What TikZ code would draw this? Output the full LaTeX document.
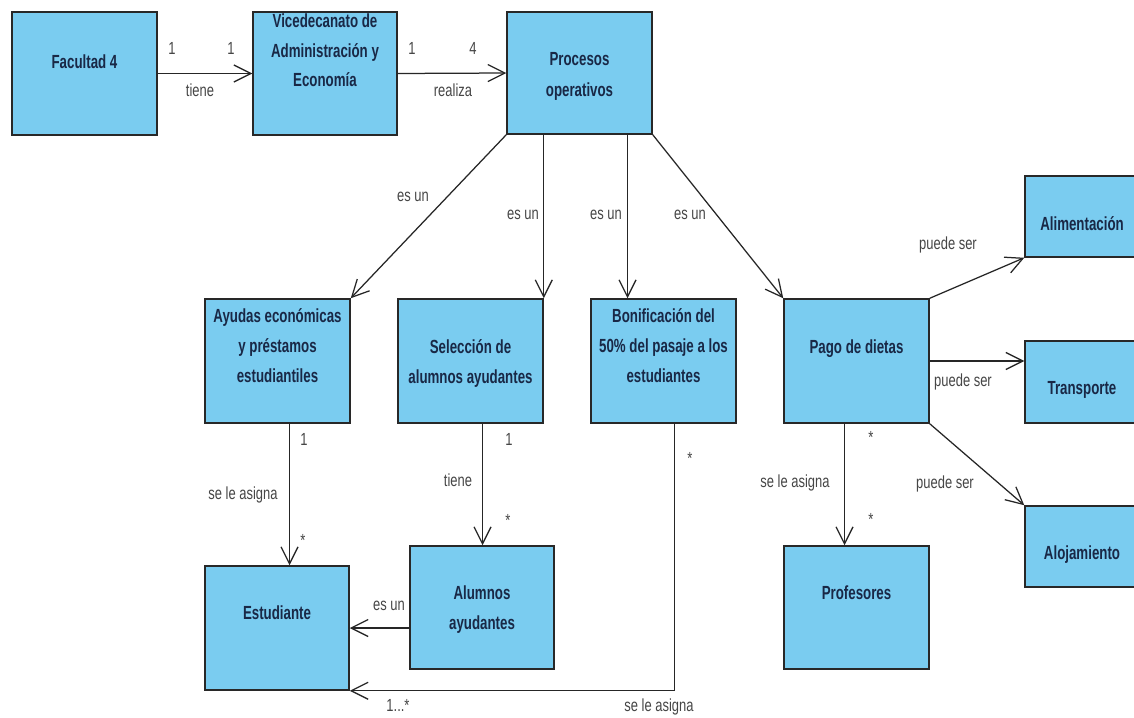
\documentclass[tikz,border=0pt]{standalone}
\usepackage{fontspec}
\setmainfont{Liberation Sans}
\newfontfamily\boxfont{Liberation Sans}[FakeStretch=0.70]
\newfontfamily\lblfont{Liberation Sans}[FakeStretch=0.74]
\usetikzlibrary{arrows.meta}
\definecolor{boxfill}{RGB}{122,204,240}
\definecolor{boxline}{RGB}{40,40,40}
\definecolor{boxtxt}{RGB}{25,40,70}
\definecolor{lbltxt}{RGB}{70,70,70}
\begin{document}
\begin{tikzpicture}[x=1pt,y=-1pt,
  box/.style={rectangle, draw=boxline, fill=boxfill, line width=1.5pt,
    minimum width=145pt, minimum height=123pt, inner sep=0pt},
  btxt/.style={anchor=base, inner sep=0pt, text=boxtxt,
    font=\boxfont\bfseries\fontsize{19}{22}\selectfont},
  lbl/.style={anchor=base, inner sep=0pt, text=lbltxt,
    font=\lblfont\fontsize{17.5}{20}\selectfont},
  assoc/.style={draw=black!85, line width=1.25pt,
    -{Straight Barb[length=17pt,width=17pt]}}]
\clip (0,0) rectangle (1134,717);
\fill[white] (0,0) rectangle (1134,717);

% boxes
\node[box] (fac)   at (84.5,73.5) {};
\node[box, minimum width=144pt] (vice) at (325,73.5) {};
\node[box, minimum height=122pt] (proc) at (579.5,73) {};
\node[box, minimum height=124pt] (ayu)  at (277.5,361) {};
\node[box, minimum height=124pt] (sel)  at (470.5,361) {};
\node[box, minimum height=124pt] (bon)  at (663.5,361) {};
\node[box, minimum height=124pt] (pago) at (856.5,361) {};
\node[box, minimum height=81pt] (alim)  at (1097.5,216.5) {};
\node[box, minimum height=82pt] (trans) at (1097.5,382) {};
\node[box, minimum height=81pt] (aloj)  at (1097.5,546.5) {};
\node[box, minimum width=144pt, minimum height=124pt] (est) at (277,628) {};
\node[box, minimum width=144pt] (alum) at (482,607.5) {};
\node[box] (prof) at (856.5,607.5) {};

% box texts
\node[btxt] (facT) at (84.5,68) {Facultad 4};
\node[btxt] (viceT1) at (325,28) {Vicedecanato de};
\node[btxt] (viceT2) at (325,57) {Administración y};
\node[btxt] (viceT3) at (325,86) {Economía};
\node[btxt] (procT1) at (579.5,66) {Procesos};
\node[btxt] (procT2) at (579.5,96) {operativos};
\node[btxt] (ayuT1) at (277.5,322) {Ayudas económicas};
\node[btxt] (ayuT2) at (277.5,352) {y préstamos};
\node[btxt] (ayuT3) at (277.5,382) {estudiantiles};
\node[btxt] (selT1) at (470.5,353) {Selección de};
\node[btxt] (selT2) at (470.5,383) {alumnos ayudantes};
\node[btxt] (bonT1) at (663.5,322) {Bonificación del};
\node[btxt] (bonT2) at (663.5,352) {50\% del pasaje a los};
\node[btxt] (bonT3) at (663.5,382) {estudiantes};
\node[btxt] (pagoT) at (856.5,353) {Pago de dietas};
\node[btxt] (alimT) at (1082,230) {Alimentación};
\node[btxt] (transT) at (1082,394) {Transporte};
\node[btxt] (alojT) at (1082,559) {Alojamiento};
\node[btxt] (estT) at (277,619) {Estudiante};
\node[btxt] (alumT1) at (482,599) {Alumnos};
\node[btxt] (alumT2) at (482,629) {ayudantes};
\node[btxt] (profT) at (856.5,599) {Profesores};

% connectors
\draw[assoc] (fac.east) -- (vice.west);
\draw[assoc] (vice.east) -- (proc.west);
\draw[assoc] (proc.south west) -- (ayu.north east);
\draw[assoc] (proc.south -| sel.north east) -- (sel.north east);
\coordinate (bonIn) at ([xshift=-36pt]bon.north);
\draw[assoc] (proc.south -| bonIn) -- (bonIn);
\draw[assoc] (proc.south east) -- (pago.north west);
\draw[assoc] (pago.north east) -- (alim.south west);
\draw[assoc] (pago.east) -- (pago.east -| trans.west);
\draw[assoc] (pago.south east) -- (aloj.north west);
\coordinate (pagoOut) at ([xshift=-12pt]pago.south);
\draw[assoc] (pagoOut) -- (pagoOut |- prof.north);
\coordinate (ayuOut) at ([xshift=12pt]ayu.south);
\draw[assoc] (ayuOut) -- (ayuOut |- est.north);
\coordinate (selOut) at ([xshift=12pt]sel.south);
\draw[assoc] (selOut) -- (selOut |- alum.north);
\draw[assoc] (est.east -| alum.west) -- (est.east);
\coordinate (bonOut) at ([xshift=11pt]bon.south);
\draw[assoc] (bonOut) |- (est.south east);

% labels
\node[lbl] (m1) at (172,55) {1};
\node[lbl] (m2) at (231,55) {1};
\node[lbl] (l1) at (200,96) {tiene};
\node[lbl] (m3) at (412,55) {1};
\node[lbl] (m4) at (473,55) {4};
\node[lbl] (l2) at (453,96) {realiza};
\node[lbl] (l3) at (413,201) {es un};
\node[lbl] (l4) at (523,219) {es un};
\node[lbl] (l5) at (606,219) {es un};
\node[lbl] (l6) at (690,219) {es un};
\node[lbl] (l7) at (948,249) {puede ser};
\node[lbl] (l8) at (963,386) {puede ser};
\node[lbl] (l9) at (945,488) {puede ser};
\node[lbl] (l10) at (795,487) {se le asigna};
\node[lbl] (m5) at (871,443.5) {*};
\node[lbl] (m6) at (871,525.5) {*};
\node[lbl] (m7) at (304,445) {1};
\node[lbl] (l11) at (243,499) {se le asigna};
\node[lbl] (m8) at (303,546.5) {*};
\node[lbl] (m9) at (509,445) {1};
\node[lbl] (l12) at (458,486) {tiene};
\node[lbl] (m10) at (508,526.5) {*};
\node[lbl] (l13) at (389,610) {es un};
\node[lbl] (m11) at (690,464.5) {*};
\node[lbl] (l14) at (659,711) {se le asigna};
\node[lbl] (m12) at (398,711) {1...*};
\end{tikzpicture}
\end{document}
